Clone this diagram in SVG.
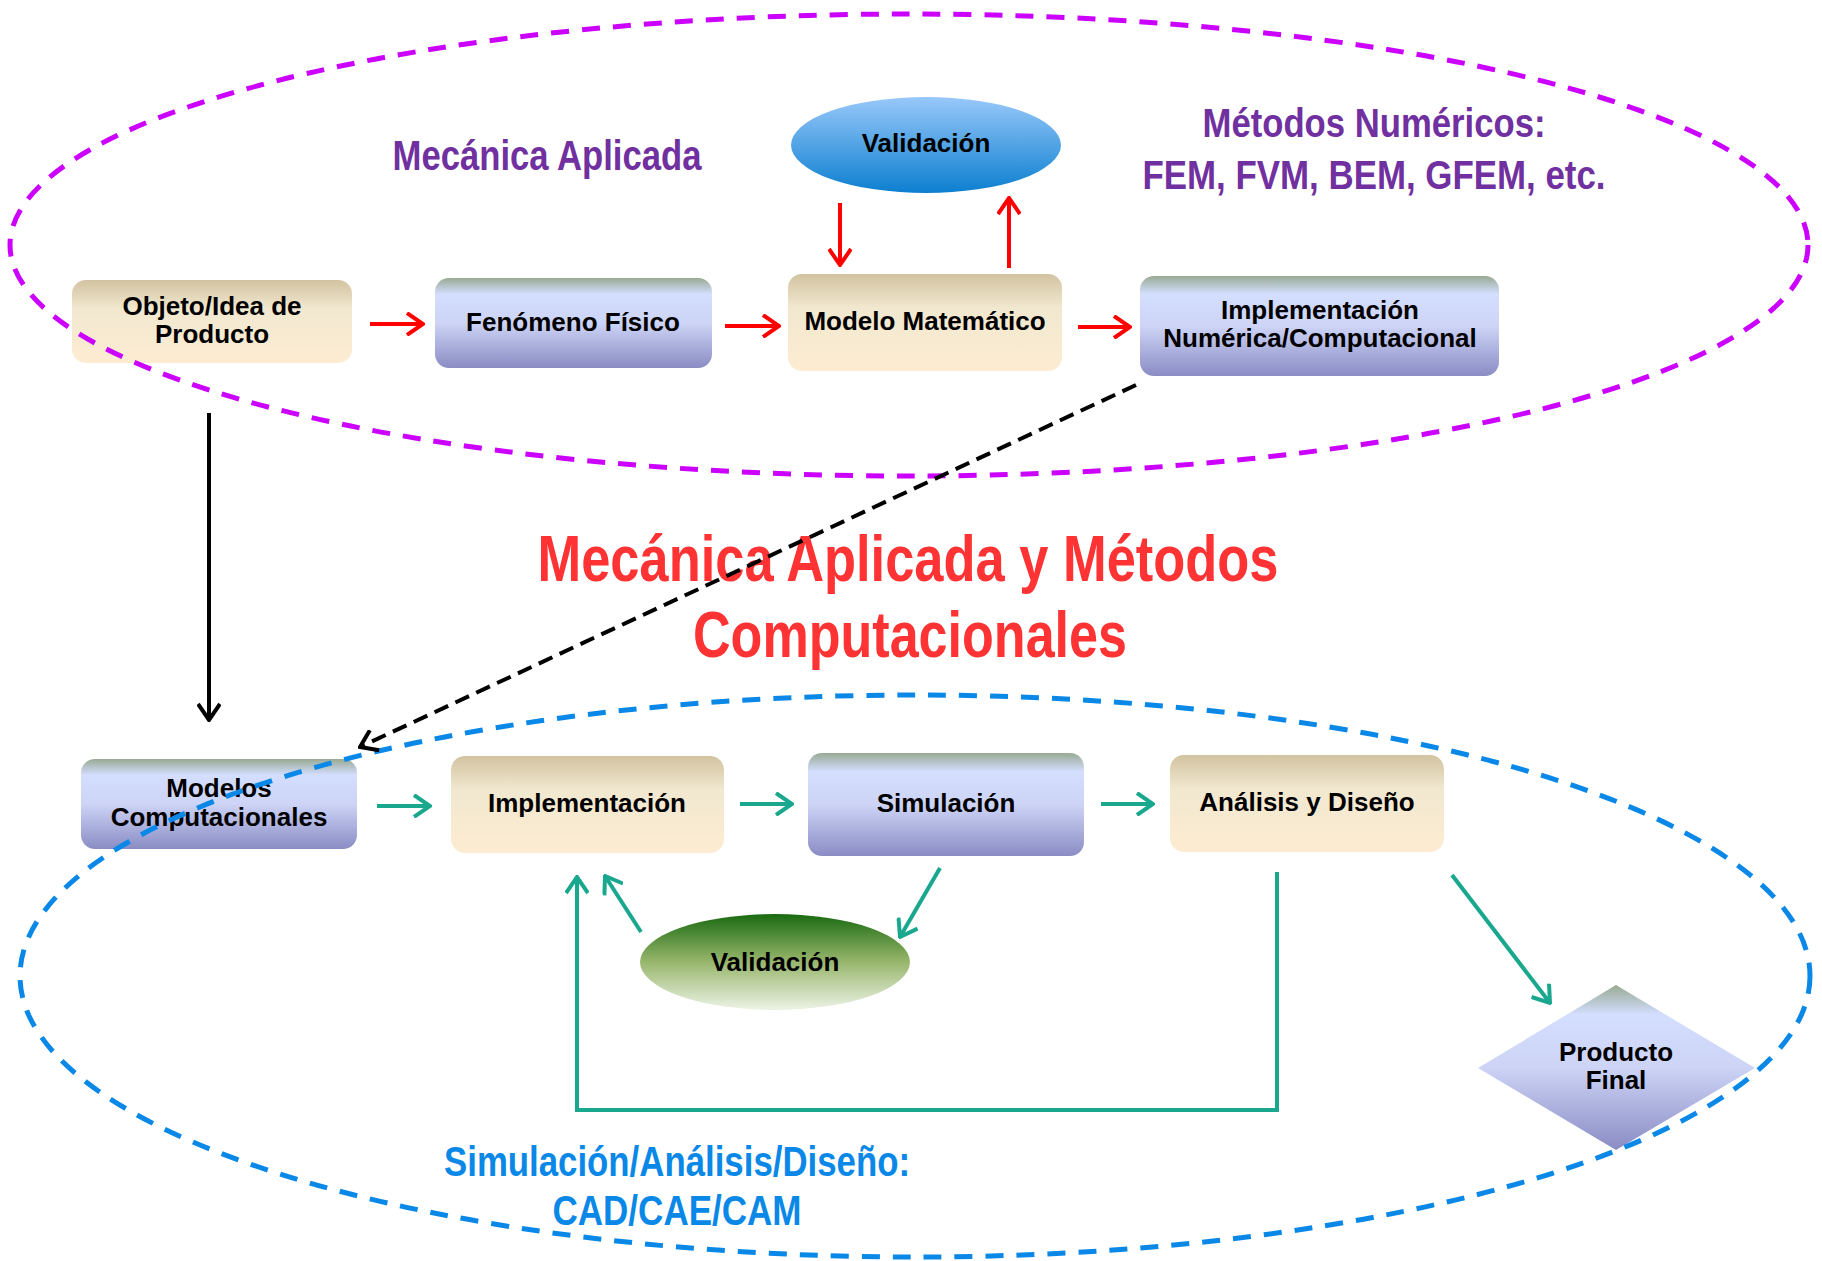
<svg xmlns="http://www.w3.org/2000/svg" width="1822" height="1261" viewBox="0 0 1822 1261">
<style>
.lbl{font-family:"Liberation Sans",Arial,sans-serif;font-weight:bold;font-size:26px;fill:#000;text-anchor:middle}
.ttl{font-family:"Liberation Sans Narrow","Liberation Sans",Arial,sans-serif;font-weight:bold;text-anchor:middle}
.red{stroke:#ff0000;stroke-width:4;fill:none}
.teal{stroke:#19a88e;stroke-width:4;fill:none}
.blk{stroke:#000;stroke-width:4;fill:none}
.reg{fill:none;stroke-width:5;stroke-dasharray:18 13}
</style>
<defs>
<linearGradient id="tan" x1="0" y1="0" x2="0" y2="1">
<stop offset="0" stop-color="#d2c3a0"/><stop offset="0.35" stop-color="#f1e8d0"/><stop offset="1" stop-color="#fdecd2"/>
</linearGradient>
<linearGradient id="blu" x1="0" y1="0" x2="0" y2="1">
<stop offset="0" stop-color="#98aa94"/><stop offset="0.18" stop-color="#d4deff"/><stop offset="0.5" stop-color="#cdd4f6"/><stop offset="1" stop-color="#8a8cc4"/>
</linearGradient>
<linearGradient id="val1" x1="0" y1="0" x2="0" y2="1">
<stop offset="0" stop-color="#98c8fa"/><stop offset="1" stop-color="#0c7fd0"/>
</linearGradient>
<linearGradient id="val2" x1="0" y1="0" x2="0" y2="1">
<stop offset="0" stop-color="#196a10"/><stop offset="0.5" stop-color="#98b66c"/><stop offset="1" stop-color="#ecf3e6"/>
</linearGradient>
<marker id="ar" viewBox="0 0 20 24" refX="18" refY="12" markerWidth="20" markerHeight="24" markerUnits="userSpaceOnUse" orient="auto">
<path d="M2,1 L18,12 L2,23" fill="none" stroke="#ff0000" stroke-width="4"/>
</marker>
<marker id="at" viewBox="0 0 20 24" refX="18" refY="12" markerWidth="20" markerHeight="24" markerUnits="userSpaceOnUse" orient="auto">
<path d="M2,1 L18,12 L2,23" fill="none" stroke="#19a88e" stroke-width="4"/>
</marker>
<marker id="ab" viewBox="0 0 20 24" refX="18" refY="12" markerWidth="20" markerHeight="24" markerUnits="userSpaceOnUse" orient="auto">
<path d="M2,1 L18,12 L2,23" fill="none" stroke="#000" stroke-width="4"/>
</marker>
</defs>
<rect width="1822" height="1261" fill="#fff"/>

<g id="nodes">
<g id="objeto"><rect x="72" y="280" width="280" height="83" rx="14" fill="url(#tan)"/>
<text class="lbl" x="212" y="315">Objeto/Idea de</text><text class="lbl" x="212" y="343">Producto</text></g>
<g id="fenomeno"><rect x="435" y="278" width="277" height="90" rx="14" fill="url(#blu)"/>
<text class="lbl" x="573" y="331">Fenómeno Físico</text></g>
<g id="modelo"><rect x="788" y="274" width="274" height="97" rx="14" fill="url(#tan)"/>
<text class="lbl" x="925" y="330">Modelo Matemático</text></g>
<g id="implnum"><rect x="1140" y="276" width="359" height="100" rx="14" fill="url(#blu)"/>
<text class="lbl" x="1320" y="319">Implementación</text><text class="lbl" x="1320" y="347">Numérica/Computacional</text></g>
<g id="validacion1"><ellipse cx="926" cy="145" rx="135" ry="48" fill="url(#val1)"/>
<text class="lbl" x="926" y="152">Validación</text></g>
<g id="modcomp"><rect x="81" y="759" width="276" height="90" rx="14" fill="url(#blu)"/>
<text class="lbl" x="219" y="797">Modelos</text><text class="lbl" x="219" y="826">Computacionales</text></g>
<g id="impl"><rect x="451" y="756" width="273" height="97" rx="14" fill="url(#tan)"/>
<text class="lbl" x="587" y="812">Implementación</text></g>
<g id="simulacion"><rect x="808" y="753" width="276" height="103" rx="14" fill="url(#blu)"/>
<text class="lbl" x="946" y="812">Simulación</text></g>
<g id="analisis"><rect x="1170" y="755" width="274" height="97" rx="14" fill="url(#tan)"/>
<text class="lbl" x="1307" y="811">Análisis y Diseño</text></g>
<g id="validacion2"><ellipse cx="775" cy="962" rx="135" ry="48" fill="url(#val2)"/>
<text class="lbl" x="775" y="971">Validación</text></g>
<g id="producto"><polygon points="1616,985 1755,1068 1616,1150 1478,1068" fill="url(#blu)"/>
<text class="lbl" x="1616" y="1061">Producto</text><text class="lbl" x="1616" y="1089">Final</text></g>
</g>

<g id="titles">
<text class="ttl" x="547" y="170" font-size="42" fill="#7030a0" textLength="309" lengthAdjust="spacingAndGlyphs">Mecánica Aplicada</text>
<text class="ttl" x="1374" y="137" font-size="41" fill="#7030a0" textLength="343" lengthAdjust="spacingAndGlyphs">Métodos Numéricos:</text>
<text class="ttl" x="1374" y="189" font-size="41" fill="#7030a0" textLength="463" lengthAdjust="spacingAndGlyphs">FEM, FVM, BEM, GFEM, etc.</text>
<text class="ttl" x="908" y="581" font-size="64" fill="#ff3333" textLength="741" lengthAdjust="spacingAndGlyphs">Mecánica Aplicada y Métodos</text>
<text class="ttl" x="910" y="657" font-size="64" fill="#ff3333" textLength="434" lengthAdjust="spacingAndGlyphs">Computacionales</text>
<text class="ttl" x="677" y="1176" font-size="42" fill="#0a88e8" textLength="466" lengthAdjust="spacingAndGlyphs">Simulación/Análisis/Diseño:</text>
<text class="ttl" x="677" y="1225" font-size="42" fill="#0a88e8" textLength="249" lengthAdjust="spacingAndGlyphs">CAD/CAE/CAM</text>
</g>

<g id="regions">
<ellipse class="reg" cx="909" cy="245" rx="899" ry="231" stroke="#cc00ff"/>
<ellipse class="reg" cx="915" cy="976" rx="895" ry="281" stroke="#0a88e8"/>
</g>

<g id="connectors">
<line class="red" x1="370" y1="324" x2="423" y2="324" marker-end="url(#ar)"/>
<line class="red" x1="725" y1="326" x2="779" y2="326" marker-end="url(#ar)"/>
<line class="red" x1="1078" y1="327" x2="1130" y2="327" marker-end="url(#ar)"/>
<line class="red" x1="840" y1="203" x2="840" y2="265" marker-end="url(#ar)"/>
<line class="red" x1="1009" y1="268" x2="1009" y2="198" marker-end="url(#ar)"/>
<line class="blk" x1="209" y1="413" x2="209" y2="720" marker-end="url(#ab)"/>
<line class="blk" x1="1136" y1="385" x2="360" y2="747" stroke-dasharray="15 8" marker-end="url(#ab)"/>
<line class="teal" x1="377" y1="806" x2="430" y2="806" marker-end="url(#at)"/>
<line class="teal" x1="740" y1="804" x2="792" y2="804" marker-end="url(#at)"/>
<line class="teal" x1="1101" y1="804" x2="1153" y2="804" marker-end="url(#at)"/>
<line class="teal" x1="940" y1="868" x2="900" y2="937" marker-end="url(#at)"/>
<line class="teal" x1="641" y1="932" x2="605" y2="876" marker-end="url(#at)"/>
<polyline class="teal" points="1277,872 1277,1110 577,1110 577,877" marker-end="url(#at)"/>
<line class="teal" x1="1452" y1="875" x2="1550" y2="1003" marker-end="url(#at)"/>
</g>
</svg>
